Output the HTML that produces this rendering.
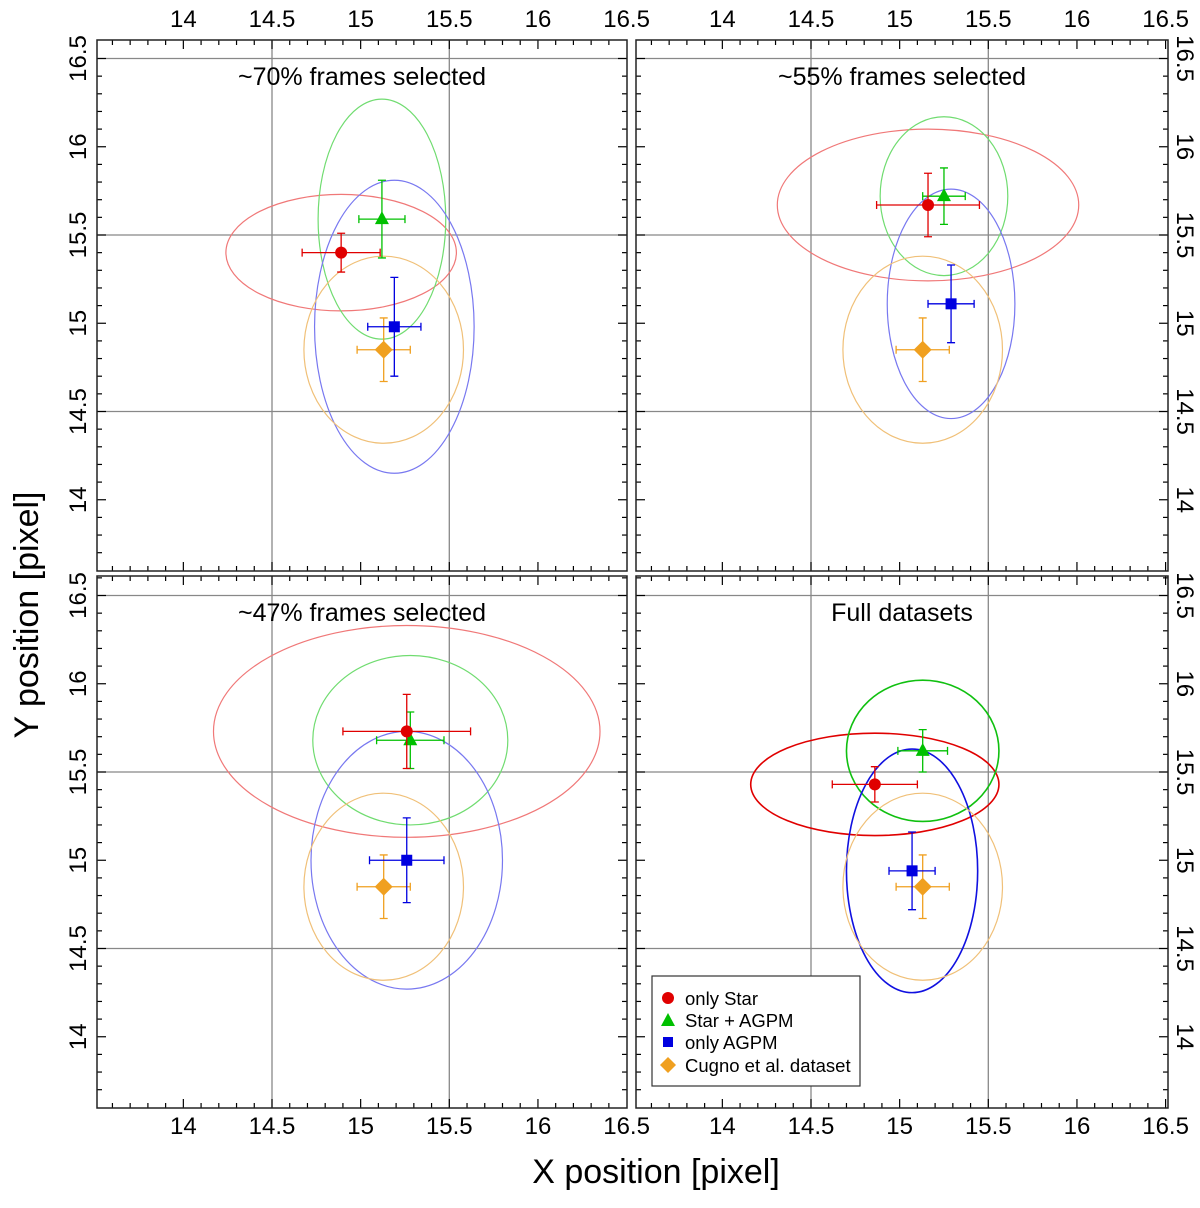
<!DOCTYPE html>
<html><head><meta charset="utf-8"><style>
body{margin:0;background:#fff;}
svg text{font-family:"Liberation Sans",sans-serif;fill:#000;}
</style></head><body>
<svg id="c" width="1200" height="1203" xmlns="http://www.w3.org/2000/svg">
<text x="656" y="1183" font-size="34" text-anchor="middle">X position [pixel]</text>
<text transform="translate(38,615) rotate(-90)" font-size="34" text-anchor="middle">Y position [pixel]</text>
<g id="legend">
<rect x="652" y="976" width="208" height="110" fill="#fff" stroke="#333" stroke-width="1.2"/>
<circle cx="668" cy="998" r="6" fill="#e00000"/>
<text x="685" y="1005" font-size="18.5">only Star</text>
<polygon points="668,1013 675,1026 661,1026" fill="#00c000"/>
<text x="685" y="1027" font-size="18.5">Star + AGPM</text>
<rect x="663" y="1037" width="10" height="10" fill="#0000e0"/>
<text x="685" y="1049" font-size="18.5">only AGPM</text>
<polygon points="668,1057 676,1065 668,1073 660,1065" fill="#f0a020"/>
<text x="685" y="1072" font-size="18.5">Cugno et al. dataset</text>
</g>
</svg>
<script>
const panelTitles=["~70% frames selected","~55% frames selected","~47% frames selected","Full datasets"];
const seriesNames=["only-star","star-agpm","only-agpm","cugno"];
const p1X=[14.89,15.12,15.19,15.13], p1Y=[15.40,15.59,14.98,14.85], p1EX=[0.22,0.13,0.15,0.15], p1EY=[0.11,0.22,0.28,0.18], p1RX=[0.65,0.36,0.45,0.45], p1RY=[0.33,0.68,0.83,0.53];
const p2X=[15.16,15.25,15.29,15.13], p2Y=[15.67,15.72,15.11,14.85], p2EX=[0.29,0.12,0.13,0.15], p2EY=[0.18,0.16,0.22,0.18], p2RX=[0.85,0.36,0.36,0.45], p2RY=[0.43,0.45,0.65,0.53];
const p3X=[15.26,15.28,15.26,15.13], p3Y=[15.73,15.68,15.00,14.85], p3EX=[0.36,0.19,0.21,0.15], p3EY=[0.21,0.16,0.24,0.18], p3RX=[1.09,0.55,0.54,0.45], p3RY=[0.60,0.48,0.73,0.53];
const p4X=[14.86,15.13,15.07,15.13], p4Y=[15.43,15.62,14.94,14.85], p4EX=[0.24,0.14,0.13,0.15], p4EY=[0.10,0.12,0.22,0.18], p4RX=[0.70,0.43,0.37,0.45], p4RY=[0.29,0.40,0.69,0.53];
const xTicks=["14","14.5","15","15.5","16","16.5"];
const yTicks=["14","14.5","15","15.5","16","16.5"];
const panelData=[[p1X,p1Y,p1EX,p1EY,p1RX,p1RY],[p2X,p2Y,p2EX,p2EY,p2RX,p2RY],[p3X,p3Y,p3EX,p3EY,p3RX,p3RY],[p4X,p4Y,p4EX,p4EY,p4RX,p4RY]];
const NS="http://www.w3.org/2000/svg";
const svg=document.getElementById('c');
const legend=document.getElementById('legend');
const boxes=[[97,40,627,571],[636,40,1168,571],[97,576,627,1108],[636,576,1168,1108]];
const markCol=["#e00000","#00c000","#0000e0","#f0a020"];
const ellCol=[["#f07878","#70dc70","#7878f0","#f0c078"],["#f07878","#70dc70","#7878f0","#f0c078"],["#f07878","#70dc70","#7878f0","#f0c078"],["#e00000","#10c010","#1010e0","#f0c078"]];
function mk(t,a,parent){const e=document.createElementNS(NS,t);for(const k in a)e.setAttribute(k,a[k]);if(parent)parent.appendChild(e);else svg.insertBefore(e,legend);return e;}
boxes.forEach((b,pi)=>{
  const [x0,y0,x1,y1]=b;
  const xs=v=>x0-2.3+(v-13.5)*177.3;
  const yc=pi<2?235:772;
  const ys=v=>yc-(v-15.5)*176.5;
  const g=mk('g',{});
  
  
  [14.5,15.5].forEach(v=>{const l=mk('line',{x1:xs(v),x2:xs(v),y1:y0,y2:y1,stroke:'#888','stroke-width':1.3},g);});
  [14.5,15.5,16.5].forEach(v=>{const l=mk('line',{x1:x0,x2:x1,y1:ys(v),y2:ys(v),stroke:'#888','stroke-width':1.3},g);});
  for(let i=135;i<=166;i++){const v=i/10;const x=xs(v);if(x<x0+1||x>x1-1)continue;const L=(i%5===0)?9:5;
    mk('line',{x1:x,x2:x,y1:y0,y2:y0+L,stroke:'#000','stroke-width':1.2},g);
    mk('line',{x1:x,x2:x,y1:y1,y2:y1-L,stroke:'#000','stroke-width':1.2},g);}
  for(let i=135;i<=167;i++){const v=i/10;const y=ys(v);if(y<y0+1||y>y1-1)continue;const L=(i%5===0)?9:5;
    mk('line',{x1:x0,x2:x0+L,y1:y,y2:y,stroke:'#000','stroke-width':1.2},g);
    mk('line',{x1:x1,x2:x1-L,y1:y,y2:y,stroke:'#000','stroke-width':1.2},g);}
  const fr=mk('rect',{x:x0,y:y0,width:x1-x0,height:y1-y0,fill:'none',stroke:'#222','stroke-width':1.5},g);
  
  
  xTicks.forEach(t=>{const v=parseFloat(t);
    if(pi<2){const e=mk('text',{x:xs(v),y:27,'font-size':24,'text-anchor':'middle'},g);e.textContent=t;}
    else{const e=mk('text',{x:xs(v),y:1134,'font-size':24,'text-anchor':'middle'},g);e.textContent=t;}});
  yTicks.forEach(t=>{const v=parseFloat(t);const y=ys(v);
    if(pi%2===0){const e=mk('text',{transform:`translate(86,${y}) rotate(-90)`,'font-size':24,'text-anchor':'middle'},g);e.textContent=t;}
    else{const e=mk('text',{transform:`translate(1177,${y}) rotate(90)`,'font-size':24,'text-anchor':'middle'},g);e.textContent=t;}});
  const tt=mk('text',{x:(x0+x1)/2,y:y0+45,'font-size':25,'text-anchor':'middle'},g);
  tt.textContent=panelTitles[pi];
  
  
  const [PX,PY,EX,EY,RX,RY]=panelData[pi];
  for(let s=0;s<4;s++){
    const cx=xs(PX[s]),cy=ys(PY[s]);
    const el=mk('ellipse',{cx:cx,cy:cy,rx:RX[s]*177.3,ry:RY[s]*176.5,fill:'none',stroke:ellCol[pi][s],'stroke-width':pi===3&&s<3?1.6:1.2},g);
    
    
  }
  for(let s=3;s>=0;s--){
    const cx=xs(PX[s]),cy=ys(PY[s]);const c=markCol[s];
    const xa=xs(PX[s]-EX[s]),xb=xs(PX[s]+EX[s]),ya=ys(PY[s]+EY[s]),yb=ys(PY[s]-EY[s]);
    const eb=mk('path',{d:`M${xa},${cy}H${xb}M${cx},${ya}V${yb}M${xa},${cy-4}V${cy+4}M${xb},${cy-4}V${cy+4}M${cx-4},${ya}H${cx+4}M${cx-4},${yb}H${cx+4}`,stroke:c,'stroke-width':1.3,fill:'none'},g);
    
    
    let m;
    if(s===0)m=mk('circle',{cx:cx,cy:cy,r:6,fill:c},g);
    else if(s===1)m=mk('polygon',{points:`${cx},${cy-8} ${cx+7},${cy+5} ${cx-7},${cy+5}`,fill:c},g);
    else if(s===2)m=mk('rect',{x:cx-5.5,y:cy-5.5,width:11,height:11,fill:c},g);
    else m=mk('polygon',{points:`${cx},${cy-9} ${cx+9},${cy} ${cx},${cy+9} ${cx-9},${cy}`,fill:c},g);
    
    
  }
});
</script>
</body></html>
